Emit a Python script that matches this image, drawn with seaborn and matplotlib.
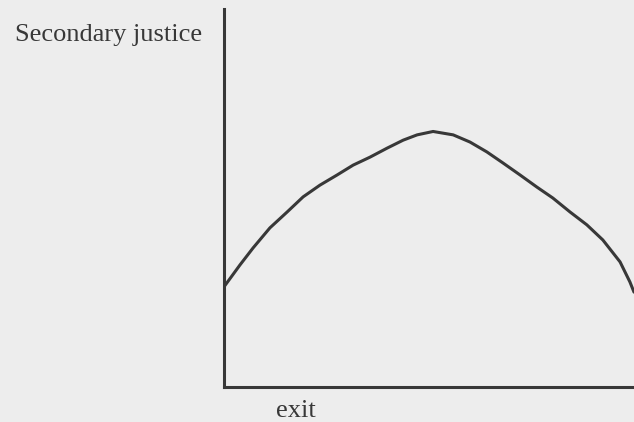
import matplotlib
matplotlib.use("Agg")
import matplotlib.pyplot as plt
import pandas as pd
import seaborn as sns

# Curve values (exit on x, secondary justice on y, both 0-100)
exit_level = [0, 3.9, 7.1, 11.2, 15.4, 19.3, 23.4, 27.6, 31.5, 35.6, 39.8, 43.7,
              47.1, 51.0, 55.9, 60.0, 64.1, 68.0, 72.2, 76.3, 80.2, 84.4, 88.5,
              92.4, 96.6, 99.0, 100]
justice_level = [26.5, 32.3, 36.8, 42.1, 46.3, 50.3, 53.4, 56.1, 58.7, 60.8, 63.2,
                 65.3, 66.7, 67.6, 66.7, 64.8, 62.2, 59.3, 56.1, 52.9, 50.0, 46.3,
                 42.9, 38.9, 33.1, 27.8, 25.1]

x_label = "exit"
y_label = "Secondary justice"

df = pd.DataFrame({"exit": exit_level, "justice": justice_level})

sns.set_style("white")
plt.rcParams["font.family"] = ["Liberation Serif", "DejaVu Serif"]

bg = "#ededed"
ink = "#383838"

fig = plt.figure(figsize=(6.34, 4.22), dpi=100, facecolor=bg)
ax = fig.add_axes([0.3533, 0.0829, 0.6467, 0.8958])
ax.set_facecolor(bg)

# Draw the curve
sns.lineplot(x="exit", y="justice", data=df, sort=False, color=ink,
             linewidth=2.2, ax=ax, solid_joinstyle="round", solid_capstyle="round")

ax.set_xlim(0, 100)
ax.set_ylim(0, 100)
ax.set_xticks([])
ax.set_yticks([])
ax.set_xlabel("")
ax.set_ylabel("")

# Only the two axis lines
for side in ["top", "right"]:
    ax.spines[side].set_visible(False)
for side in ["left", "bottom"]:
    ax.spines[side].set_color(ink)
    ax.spines[side].set_linewidth(2.2)

fig.text(0.0237, 0.903, y_label, fontsize=19, color=ink, va="baseline", ha="left")
fig.text(0.435, 0.012, x_label, fontsize=19, color=ink, va="baseline", ha="left")

fig.savefig("out.png", dpi=100, facecolor=bg)
